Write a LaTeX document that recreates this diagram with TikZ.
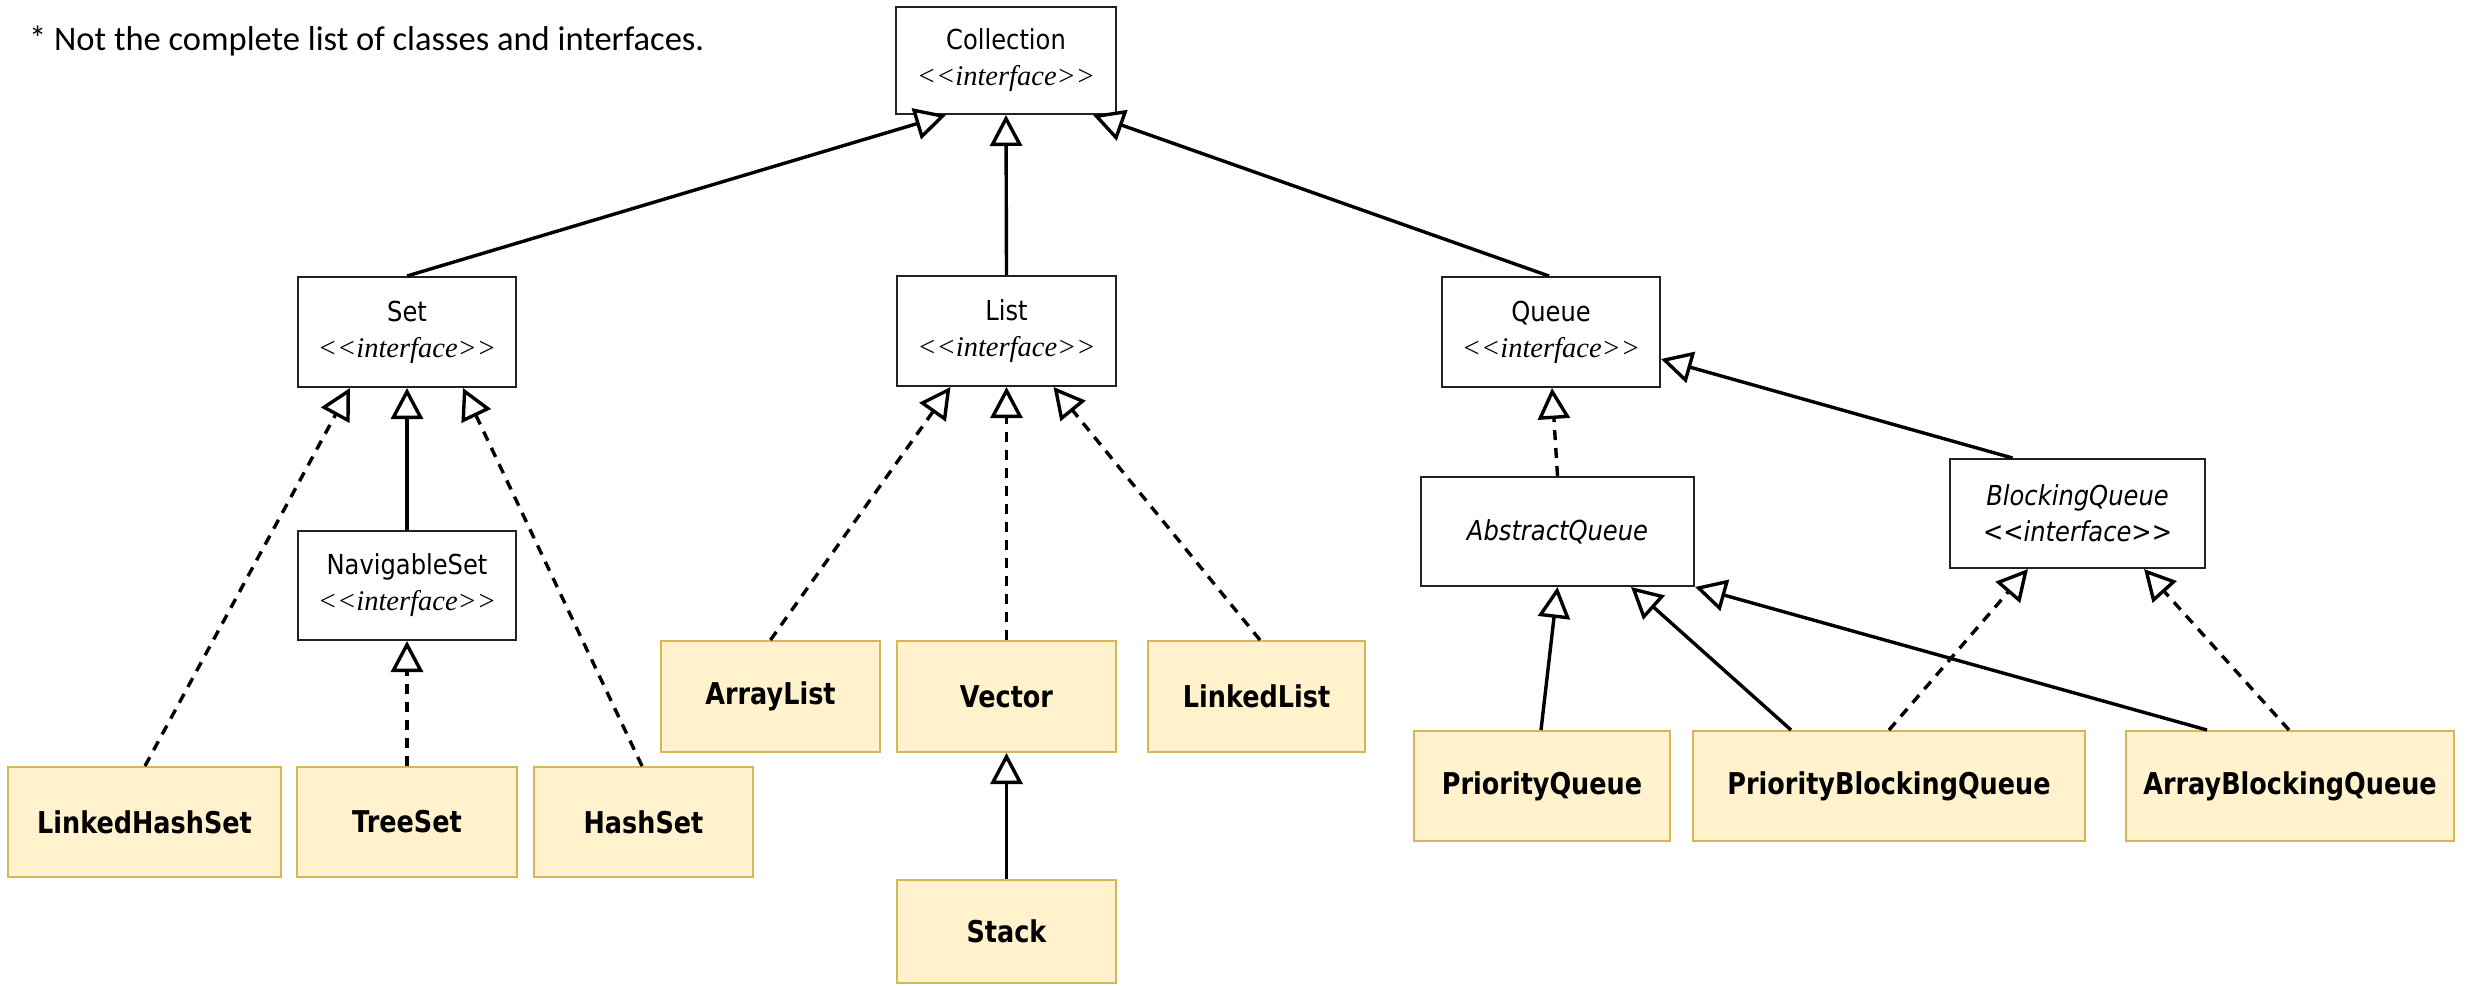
\documentclass[tikz,border=0pt]{standalone}
\usepackage{fontspec}
\usetikzlibrary{arrows.meta,calc}
\newfontfamily\lblfont[FakeStretch=0.88]{DejaVu Sans}
\newfontfamily\clsfont[FakeStretch=0.85]{DejaVu Sans}
\newfontfamily\ifacefont{Liberation Serif}
\newfontfamily\notefont{Carlito}
\definecolor{clsfill}{HTML}{FFF2CC}
\definecolor{clsborder}{HTML}{D6B656}
\definecolor{ifaceborder}{HTML}{222222}
\tikzset{
  iface/.style={draw=ifaceborder, line width=2pt, fill=white, inner sep=0pt, align=center,
    minimum width=218pt, minimum height=110pt, font=\fontsize{27.5}{36}\selectfont},
  cls/.style={draw=clsborder, line width=2pt, fill=clsfill, inner sep=0pt,
    minimum height=110pt, font=\clsfont\bfseries\fontsize{30}{36}\selectfont},
  inh/.style={line width=3.4pt, draw=black, -{Triangle[open, length=31pt, width=32pt, fill=white]}},
  impl/.style={inh, dash pattern=on 10pt off 8pt},
}
\newcommand{\ifc}{{\ifacefont\itshape\fontsize{28.5}{36}\selectfont <{}<interface>{}>}}
\begin{document}
\begin{tikzpicture}[x=1pt,y=-1pt]
\useasboundingbox (0,0) rectangle (2465,985);
% note
\node[anchor=base west, inner sep=0pt, font=\notefont\fontsize{34.5}{40}\selectfont] (note) at (29,50) {* Not the complete list of classes and interfaces.};
% interfaces
\node[iface, minimum width=220pt, minimum height=107pt] (coll) at (1006,60.5) {{\lblfont Collection}\\\ifc};
\node[iface] (set) at (407,332) {{\lblfont Set}\\\ifc};
\node[iface, minimum width=219pt] (list) at (1006.5,331) {{\lblfont List}\\\ifc};
\node[iface] (queue) at (1551,332) {{\lblfont Queue}\\\ifc};
\node[iface, minimum height=109pt] (navset) at (407,585.5) {{\lblfont NavigableSet}\\\ifc};
\node[iface, minimum width=273pt, minimum height=109pt] (absq) at (1557.5,531.5) {{\lblfont\itshape AbstractQueue}};
\node[iface, minimum width=255pt, minimum height=109pt] (blockq) at (2077.5,513.5) {{\lblfont\itshape BlockingQueue}\\{\lblfont\itshape <{}<interface>{}>}};
% classes
\node[cls, minimum width=219pt, minimum height=111pt] (arraylist) at (770.5,696.5) {ArrayList};
\node[cls, minimum width=219pt, minimum height=111pt] (vector) at (1006.5,696.5) {Vector};
\node[cls, minimum width=217pt, minimum height=111pt] (linkedlist) at (1256.5,696.5) {LinkedList};
\node[cls, minimum width=273pt] (lhs) at (144.5,822) {LinkedHashSet};
\node[cls, minimum width=220pt] (treeset) at (407,822) {TreeSet};
\node[cls, minimum width=219pt] (hashset) at (643.5,822) {HashSet};
\node[cls, minimum width=219pt, minimum height=103pt] (stack) at (1006.5,931.5) {Stack};
\node[cls, minimum width=256pt] (pq) at (1542,786) {PriorityQueue};
\node[cls, minimum width=392pt] (pbq) at (1889,786) {PriorityBlockingQueue};
\node[cls, minimum width=328pt] (abq) at (2290,786) {ArrayBlockingQueue};
% connectors
\draw[inh] (set.north) -- ([xshift=-60pt]coll.south);
\draw[inh] (list.north) -- (coll.south);
\draw[inh] ([xshift=-2pt]queue.north) -- ([xshift=87pt]coll.south);
\draw[inh] (navset.north) -- (set.south);
\draw[impl] ([xshift=0.5pt]lhs.north) -- ([xshift=-57pt]set.south);
\draw[impl] (treeset.north) -- (navset.south);
\draw[impl] ([xshift=-1.5pt]hashset.north) -- ([xshift=56pt]set.south);
\draw[impl] (arraylist.north) -- ([xshift=-56pt]list.south);
\draw[impl] (vector.north) -- (list.south);
\draw[impl] ([xshift=3.5pt]linkedlist.north) -- ([xshift=47pt]list.south);
\draw[inh] (stack.north) -- (vector.south);
\draw[impl] (absq.north) -- ([xshift=1pt]queue.south);
\draw[inh] ([xshift=-65pt]blockq.north) -- ([yshift=-27pt]queue.east);
\draw[inh] ([xshift=-1pt]pq.north) -- (absq.south);
\draw[inh] ([xshift=-98pt]pbq.north) -- ([xshift=73.5pt]absq.south);
\draw[inh] ([xshift=-83pt]abq.north) -- (absq.south east);
\draw[impl] (pbq.north) -- ([xshift=-49.5pt]blockq.south);
\draw[impl] ([xshift=-1pt]abq.north) -- ([xshift=66.5pt]blockq.south);
\end{tikzpicture}
\end{document}
